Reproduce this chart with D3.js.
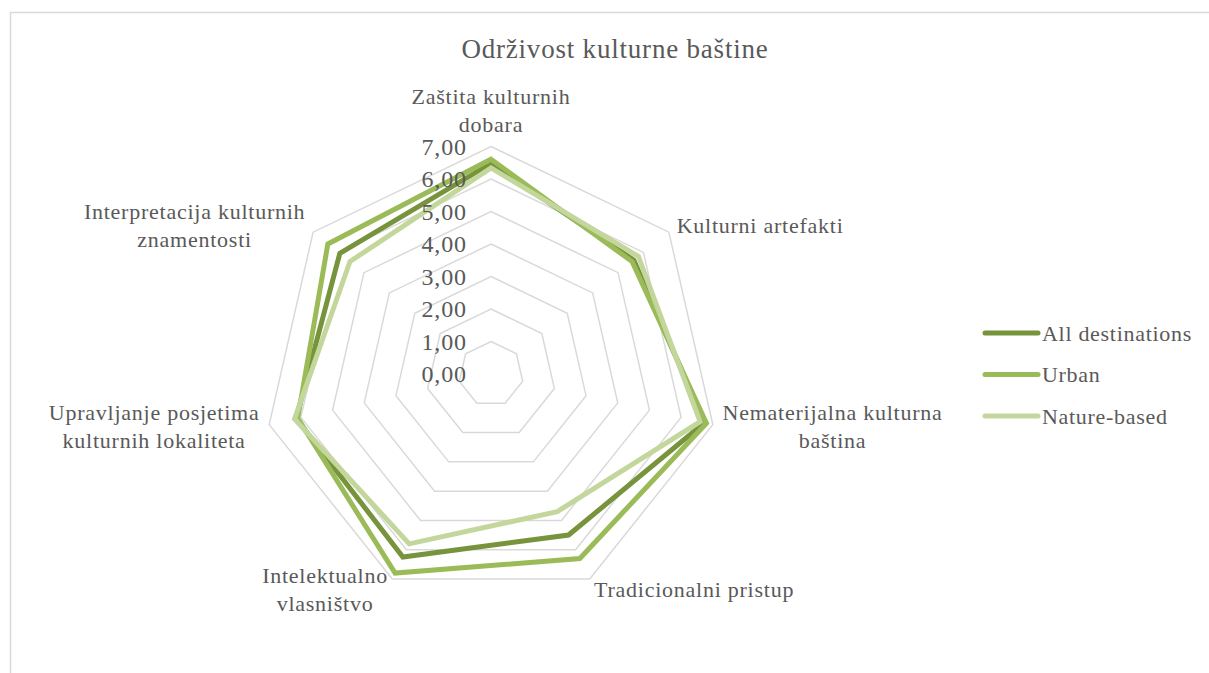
<!DOCTYPE html>
<html>
<head>
<meta charset="utf-8">
<script src="https://cdn.jsdelivr.net/npm/d3@7"></script>
<style>
  html, body { margin: 0; padding: 0; background: #fff; }
  svg { display: block; }
  text { font-family: "Liberation Serif", "Times New Roman", serif; fill: #595959; }
</style>
</head>
<body>
<svg id="chart" width="1209" height="673"></svg>
<script>
// ── data ─────────────────────────────────────────────
const chartTitle = "Održivost kulturne baštine";
const categories = [
  ["Zaštita kulturnih", "dobara"],
  ["Kulturni artefakti"],
  ["Nematerijalna kulturna", "baština"],
  ["Tradicionalni pristup"],
  ["Intelektualno", "vlasništvo"],
  ["Upravljanje posjetima", "kulturnih lokaliteta"],
  ["Interpretacija kulturnih", "znamentosti"]
];
const seriesNames = ["All destinations", "Urban", "Nature-based"];
const allDestinations = [6.48, 5.62, 6.74, 5.5, 6.25, 6.15, 5.95];
const urban           = [6.61, 5.55, 6.8, 6.3, 6.8, 6.1, 6.42];
const natureBased     = [6.34, 5.8, 6.6, 4.7, 5.8, 6.2, 5.55];
const tickValues = [0, 1, 2, 3, 4, 5, 6, 7];

const seriesValues = [allDestinations, urban, natureBased];
const seriesColors = ["#77933c", "#9bbb59", "#c3d69b"];

// ── layout ───────────────────────────────────────────
const width = 1209, height = 673;
const cx = 491, cy = 374, R = 227.5;
const svg = d3.select("#chart");
const fmt = v => v.toFixed(2).replace(".", ",");

// chart border
svg.append("rect")
  .attr("x", 10.5).attr("y", 12.5)
  .attr("width", width + 20).attr("height", height + 20)
  .attr("fill", "none").attr("stroke", "#d9d9d9").attr("stroke-width", 1.5);

// title
svg.append("text")
  .attr("x", 615).attr("y", 58)
  .attr("text-anchor", "middle")
  .style("font-size", "27px")
  .style("letter-spacing", "0.8px")
  .text(chartTitle);

const r = d3.scaleLinear().domain([0, 7]).range([0, R]);
const angle = d3.scaleLinear().domain([0, categories.length]).range([-Math.PI / 2, 1.5 * Math.PI]);
const pt = (i, v) => [cx + r(v) * Math.cos(angle(i)), cy + r(v) * Math.sin(angle(i))];

// grid rings
const g = svg.append("g");
tickValues.forEach(t => {
  g.append("polygon")
    .attr("points", categories.map((_, i) => pt(i, t).join(",")).join(" "))
    .attr("fill", "none")
    .attr("stroke", "#d9d9d9")
    .attr("stroke-width", 1.5);
});

// series lines
const line = d3.line().curve(d3.curveLinearClosed);
seriesValues.forEach((vals, s) => {
  g.append("path")
    .attr("d", line(vals.map((v, i) => pt(i, v))))
    .attr("fill", "none")
    .attr("stroke", seriesColors[s])
    .attr("stroke-width", 5)
    .attr("stroke-linejoin", "miter");
});

// tick labels
tickValues.forEach(t => {
  svg.append("text")
    .attr("x", cx - 24)
    .attr("y", cy - r(t))
    .attr("dy", "0.35em")
    .attr("text-anchor", "end")
    .style("font-size", "24px")
    .style("letter-spacing", "0.9px")
    .text(fmt(t));
});

// category labels
const pad = 10, lineH = 28;
categories.forEach((lines, i) => {
  const a = angle(i), ca = Math.cos(a), sa = Math.sin(a);
  const px = cx + (R + pad) * ca, py = cy + (R + pad) * sa;
  const txt = svg.append("text")
    .attr("text-anchor", "middle")
    .style("font-size", "22px")
    .style("letter-spacing", "0.75px");
  lines.forEach((l, k) => {
    txt.append("tspan").attr("x", 0).attr("y", k * lineH).text(l);
  });
  const bb = txt.node().getBBox();
  let bx = px, by = py;
  if (ca > 0.1) bx = px + bb.width / 2;
  else if (ca < -0.1) bx = px - bb.width / 2;
  if (sa < -0.9) by = py - bb.height / 2;
  else if (sa > 0.5) by = py + 2;
  // shift so the block's centre lands on (bx, by)
  const ox = bx - (bb.x + bb.width / 2), oy = by - (bb.y + bb.height / 2);
  txt.attr("transform", `translate(${ox},${oy})`);
});

// legend
const ly = d3.scalePoint().domain(seriesNames).range([333, 416]);
seriesNames.forEach((name, s) => {
  svg.append("line")
    .attr("x1", 985).attr("x2", 1038)
    .attr("y1", ly(name)).attr("y2", ly(name))
    .attr("stroke", seriesColors[s])
    .attr("stroke-width", 5)
    .attr("stroke-linecap", "round");
  svg.append("text")
    .attr("x", 1042).attr("y", ly(name))
    .attr("dy", "0.35em")
    .style("font-size", "22px")
    .style("letter-spacing", "0.7px")
    .text(name);
});
</script>
</body>
</html>
